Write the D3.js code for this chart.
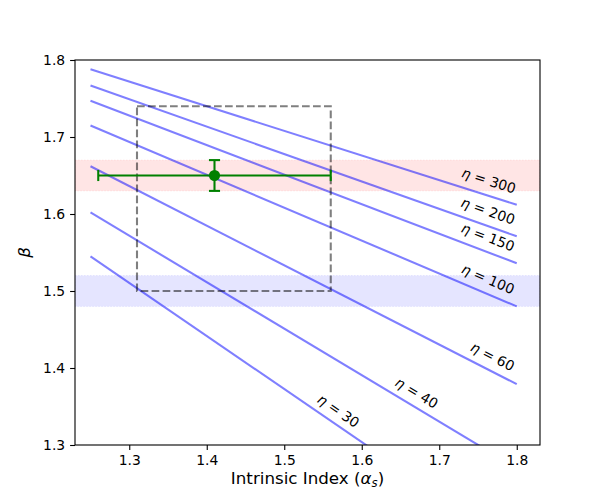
<!DOCTYPE html>
<html>
<head>
<meta charset="utf-8">
<script src="https://cdn.jsdelivr.net/npm/d3@7"></script>
<style>
  body { margin: 0; background: #fff; }
  text { font-family: "DejaVu Sans", sans-serif; }
</style>
</head>
<body>
<svg class="chart"></svg>
<script>
// eta model lines, beta read at alpha = 1.25 and alpha = 1.8
const etaValues = [300, 200, 150, 100, 60, 40, 30];
const alphaEnds = [1.25, 1.8];
const betaAtStart = [1.788, 1.767, 1.747, 1.715, 1.662, 1.602, 1.545];
const betaAtEnd = [1.612, 1.571, 1.536, 1.480, 1.379, 1.270, 1.166];
const labelAlpha = [1.764, 1.763, 1.763, 1.763, 1.769, 1.671, 1.570];

// measurement with errors
const measAlpha = [1.41];
const measAlphaErr = [0.15];
const measBeta = [1.65];
const measBetaErr = [0.02];

// horizontal bands [low, high]
const redBand = [1.63, 1.67];
const blueBand = [1.48, 1.52];

// dashed box: alpha range, beta range
const boxAlpha = [1.31, 1.56];
const boxBeta = [1.50, 1.74];

const xTicks = [1.3, 1.4, 1.5, 1.6, 1.7, 1.8];
const yTicks = [1.3, 1.4, 1.5, 1.6, 1.7, 1.8];

function chart() {
    const margin = {top: 60, right: 60, bottom: 55, left: 75},
        width = 600 - margin.left - margin.right,
        height = 500 - margin.top - margin.bottom;

    const root = d3.select(".chart")
        .attr("width", 600)
        .attr("height", 500);

    const svg = root.append("g")
        .attr("transform", `translate(${margin.left}, ${margin.top})`);

    const x = d3.scaleLinear().domain([1.23, 1.83]).range([0, width]);
    const y = d3.scaleLinear().domain([1.3, 1.8]).range([height, 0]);

    root.append("defs").append("clipPath").attr("id", "plot")
        .append("rect").attr("width", width).attr("height", height);

    const plot = svg.append("g").attr("clip-path", "url(#plot)");

    // bands
    [[redBand, "red"], [blueBand, "blue"]].forEach(([b, c]) => {
        plot.append("rect")
            .attr("x", 0).attr("width", width)
            .attr("y", y(b[1])).attr("height", y(b[0]) - y(b[1]))
            .attr("fill", c).attr("fill-opacity", 0.1)
            .attr("stroke", c).attr("stroke-opacity", 0.08)
            .attr("stroke-dasharray", "1.5,1.5");
    });

    // eta lines
    const lines = etaValues.map((eta, i) => ({
        eta,
        pts: [[alphaEnds[0], betaAtStart[i]], [alphaEnds[1], betaAtEnd[i]]],
        labelA: labelAlpha[i]
    }));

    const lineGenerator = d3.line()
        .x(d => x(d[0]))
        .y(d => y(d[1]));

    plot.selectAll(".eta")
        .data(lines)
        .join("path")
        .attr("fill", "none")
        .attr("stroke", "blue")
        .attr("stroke-opacity", 0.5)
        .attr("stroke-width", 2.08)
        .attr("d", d => lineGenerator(d.pts));

    // dashed box
    svg.append("rect")
        .attr("x", x(boxAlpha[0])).attr("width", x(boxAlpha[1]) - x(boxAlpha[0]))
        .attr("y", y(boxBeta[1])).attr("height", y(boxBeta[0]) - y(boxBeta[1]))
        .attr("fill", "none")
        .attr("stroke", "black").attr("stroke-opacity", 0.5)
        .attr("stroke-width", 2.08)
        .attr("stroke-dasharray", "7.7,3.3");

    // labels
    lines.forEach(d => {
        const [p0, p1] = d.pts;
        const t = (d.labelA - p0[0]) / (p1[0] - p0[0]);
        const b = p0[1] + t * (p1[1] - p0[1]) + 0.02;
        const ang = Math.atan2(y(p1[1]) - y(p0[1]), x(p1[0]) - x(p0[0])) * 180 / Math.PI;
        const txt = svg.append("text")
            .attr("transform", `translate(${x(d.labelA)},${y(b)}) rotate(${ang})`)
            .attr("text-anchor", "middle")
            .attr("dominant-baseline", "central")
            .attr("font-size", 13.9);
        txt.append("tspan").attr("font-style", "italic").text("η");
        txt.append("tspan").text(" = " + d.eta);
    });

    // error bar
    const g = svg.append("g").attr("stroke", "green").attr("stroke-width", 2.08);
    measAlpha.forEach((a, i) => {
        const b = measBeta[i], ea = measAlphaErr[i], eb = measBetaErr[i];
        g.append("line")
            .attr("x1", x(a - ea)).attr("x2", x(a + ea))
            .attr("y1", y(b)).attr("y2", y(b));
        g.append("line")
            .attr("x1", x(a)).attr("x2", x(a))
            .attr("y1", y(b - eb)).attr("y2", y(b + eb));
        [a - ea, a + ea].forEach(v => g.append("line")
            .attr("x1", x(v)).attr("x2", x(v))
            .attr("y1", y(b) - 5.56).attr("y2", y(b) + 5.56));
        [b - eb, b + eb].forEach(v => g.append("line")
            .attr("x1", x(a) - 5.56).attr("x2", x(a) + 5.56)
            .attr("y1", y(v)).attr("y2", y(v)));
        svg.append("circle")
            .attr("cx", x(a)).attr("cy", y(b)).attr("r", 5.56)
            .attr("fill", "green");
    });

    // axes
    const xAxis = svg.append("g")
        .attr("transform", `translate(0,${height})`)
        .call(d3.axisBottom(x).tickValues(xTicks).tickFormat(d3.format(".1f"))
            .tickSize(4.9).tickPadding(4.9));
    const yAxis = svg.append("g")
        .call(d3.axisLeft(y).tickValues(yTicks).tickFormat(d3.format(".1f"))
            .tickSize(4.9).tickPadding(4.9));
    [xAxis, yAxis].forEach(a => {
        a.select(".domain").remove();
        a.selectAll("line").attr("stroke-width", 1.1);
        a.selectAll("text").attr("font-size", 13.9).attr("font-family", "DejaVu Sans").attr("fill", "black");
    });

    svg.append("rect")
        .attr("width", width).attr("height", height)
        .attr("fill", "none").attr("stroke", "black").attr("stroke-width", 1.1);

    // axis labels
    const xl = svg.append("text")
        .attr("x", width / 2).attr("y", height + 39)
        .attr("text-anchor", "middle")
        .attr("font-size", 16.7);
    xl.append("tspan").text("Intrinsic Index (");
    xl.append("tspan").attr("font-style", "italic").text("α");
    xl.append("tspan").attr("font-style", "italic").attr("font-size", 11.7).attr("dy", 2.5).text("s");
    xl.append("tspan").attr("dy", -2.5).text(")");

    svg.append("text")
        .attr("transform", `translate(${29.5 - margin.left},${height / 2}) rotate(-90)`)
        .attr("text-anchor", "middle")
        .attr("font-size", 16.7)
        .attr("font-style", "italic")
        .text("β");
}

chart();
</script>
</body>
</html>
